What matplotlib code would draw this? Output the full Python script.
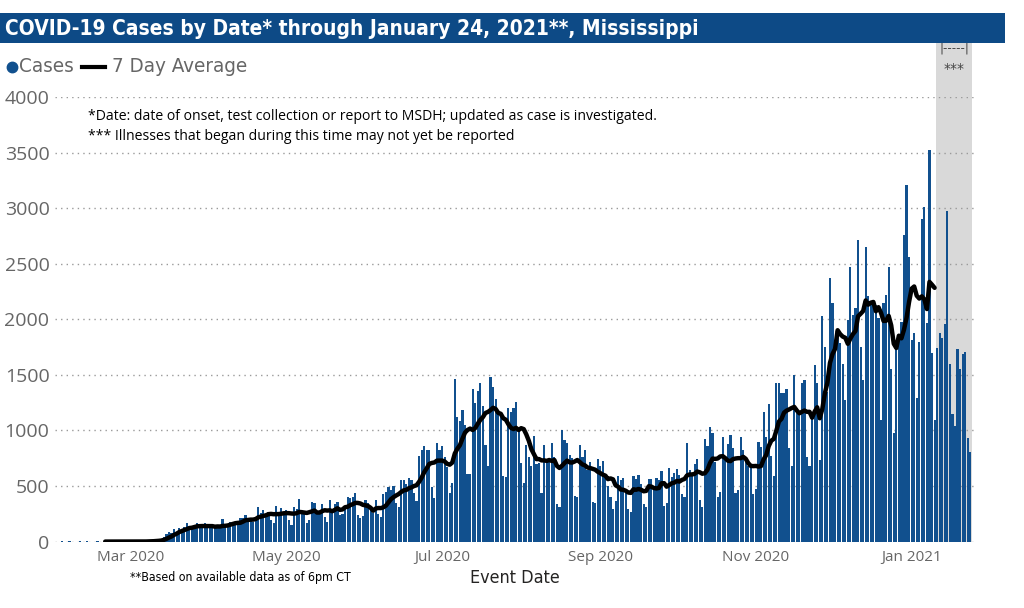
import matplotlib
matplotlib.use("Agg")
import matplotlib.pyplot as plt
import matplotlib.dates as mdates
from matplotlib import font_manager
from matplotlib.lines import Line2D
from matplotlib.patches import Rectangle
import pandas as pd

# daily cases by event date (Feb 1 2020 .. Jan 24 2021)
feb_2020 = [0, 0, 1, 0, 0, 1, 0, 0, 0, 1, 0, 0, 1, 0, 0, 0, 1, 0, 0, 1,
            0, 0, 0, 1, 0, 0, 1, 0, 0]
mar_2020 = [0, 0, 1, 0, 1, 2, 3, 5, 8, 6, 10, 15, 20, 45, 70, 90, 75, 110, 90, 120,
            110, 130, 165, 130, 130, 135, 165, 120, 135, 165, 130]
apr_2020 = [130, 130, 130, 135, 130, 200, 140, 150, 180, 180, 180, 150, 210, 210, 235,
            200, 200, 180, 190, 315, 255, 280, 240, 270, 195, 170, 320, 260, 300, 270]
may_2020 = [280, 190, 150, 310, 290, 380, 255, 255, 165, 195, 360, 345, 255, 255, 340,
            225, 175, 375, 290, 340, 355, 240, 250, 315, 405, 390, 400, 440, 235, 215, 230]
jun_2020 = [375, 345, 290, 255, 375, 245, 225, 425, 450, 495, 460, 500, 350, 315, 555,
            555, 520, 570, 550, 435, 365, 770, 820, 860, 820, 825, 495, 395, 885, 825]
jul_2020 = [860, 765, 675, 440, 525, 1460, 1125, 1085, 1180, 1050, 610, 610, 1370, 1250,
            1355, 1425, 1220, 870, 680, 1485, 1395, 1280, 1185, 1155, 590, 585, 1200,
            1170, 1205, 1260, 1020]
aug_2020 = [705, 525, 870, 765, 680, 950, 700, 710, 440, 870, 735, 735, 890, 760, 340,
            310, 1005, 910, 885, 780, 750, 410, 400, 870, 765, 825, 645, 720, 355, 350, 740]
sep_2020 = [680, 725, 585, 500, 400, 290, 365, 590, 550, 570, 435, 290, 270, 590, 560,
            600, 520, 340, 315, 565, 565, 470, 575, 550, 635, 320, 345, 665, 585, 615]
oct_2020 = [655, 595, 425, 405, 890, 645, 615, 695, 740, 375, 315, 925, 860, 1035, 980,
            720, 400, 445, 940, 735, 875, 955, 845, 440, 465, 940, 820, 750, 680, 670, 430]
nov_2020 = [475, 900, 855, 1170, 945, 1240, 770, 590, 1425, 1425, 1335, 1335, 1370, 845,
            680, 1495, 1200, 1160, 1425, 1450, 765, 680, 1125, 1585, 1430, 735, 2030,
            1755, 1350, 2370]
dec_2020 = [2145, 1755, 1910, 1785, 1600, 1275, 1990, 2475, 2035, 2105, 2715, 1755, 1450,
            2655, 2210, 2160, 2150, 2130, 2010, 1095, 2145, 2220, 2470, 1550, 975, 1740,
            1870, 1980, 2760, 3210, 2565]
jan_2021 = [1810, 1875, 1290, 1800, 2900, 3010, 1965, 3520, 1695, 1095, 1740, 1875, 1830,
            1955, 2975, 1600, 1145, 1040, 1735, 1550, 1690, 1710, 930, 805]

cases = (feb_2020 + mar_2020 + apr_2020 + may_2020 + jun_2020 + jul_2020 + aug_2020
         + sep_2020 + oct_2020 + nov_2020 + dec_2020 + jan_2021)
dates = pd.date_range("2020-02-01", periods=len(cases), freq="D")

avg_start, avg_end = "2020-02-20", "2021-01-10"
shade_start, shade_end = "2021-01-10 12:00", "2021-01-24 18:00"
yticks = list(range(0, 4001, 500))

title = "COVID-19 Cases by Date* through January 24, 2021**, Mississippi"
note_1 = "*Date: date of onset, test collection or report to MSDH; updated as case is investigated."
note_2 = "*** Illnesses that began during this time may not yet be reported"
footnote = "**Based on available data as of 6pm CT"

BAR = "#11508e"
HEAD = "#0d4a86"
GREY = "#666666"
PLAIN = ["Open Sans", "DejaVu Sans"]

# pick a narrow face if one is installed
fonts = font_manager.fontManager.ttflist
names = {f.name for f in fonts}
if "Liberation Sans Narrow" in names:
    NARROW = {"family": ["Liberation Sans Narrow", "DejaVu Sans"], "stretch": "normal"}
    scale = 1.0
elif any(f.name == "DejaVu Sans" and f.stretch == "condensed" for f in fonts):
    NARROW = {"family": ["DejaVu Sans"], "stretch": "condensed"}
    scale = 0.92
else:
    NARROW = {"family": ["DejaVu Sans"], "stretch": "normal"}
    scale = 0.82

W, H = 1024, 608


def fx(px):
    return px / W


def fy(py):
    return 1 - py / H


fig = plt.figure(figsize=(10.24, 6.08), dpi=100)
ax = fig.add_axes([fx(55), fy(541.6), fx(920), (541.6 - 97.1) / H])

s = pd.Series(cases, index=dates)
avg = s.rolling(7).mean().loc[avg_start:avg_end]

ax.bar(dates, cases, width=0.85, color=BAR, zorder=2)
ax.plot(avg.index, avg.values, color="black", lw=3.2, solid_capstyle="round", zorder=3)

# shaded "may not yet be reported" window, runs up under the header
x0 = mdates.date2num(pd.Timestamp(shade_start))
x1 = mdates.date2num(pd.Timestamp(shade_end))
ax.add_patch(Rectangle((x0, 0), x1 - x0, 4497, color="#d9d9d9", lw=0,
                       clip_on=False, zorder=0.2))
xc = (x0 + x1) / 2
ax.text(xc, 4440, "|-----|", ha="center", va="center", fontsize=8.5, color="#444444")
ax.text(xc, 4255, "***", ha="center", va="center", fontsize=10, color="#444444")

ax.set_xlim(pd.Timestamp("2020-01-31 08:00"), pd.Timestamp("2021-01-25 20:00"))
ax.set_ylim(0, 4000)
ax.set_yticks(yticks)
ax.yaxis.grid(True, linestyle=(0, (1, 3)), color="#9a9a9a", lw=1)
ax.set_axisbelow(True)
for sp in ax.spines.values():
    sp.set_visible(False)
ax.tick_params(length=0)
ax.tick_params(axis="y", labelsize=14, labelcolor=GREY, pad=4)
ax.tick_params(axis="x", labelsize=11, labelcolor=GREY, pad=6)
for lab in ax.get_yticklabels():
    lab.set_family(PLAIN)
ax.xaxis.set_major_locator(mdates.MonthLocator(bymonth=[1, 3, 5, 7, 9, 11]))
ax.xaxis.set_major_formatter(mdates.DateFormatter("%b %Y"))
for lab in ax.get_xticklabels():
    lab.set_family(PLAIN)

# header bar
fig.add_artist(Rectangle((0, fy(43)), fx(1005), 30 / H, transform=fig.transFigure,
                         color=HEAD, lw=0))
fig.text(fx(5), fy(29), title, color="white", fontsize=16.3 * scale, fontweight="bold",
         va="center", ha="left", **NARROW)

# legend row
fig.add_artist(Line2D([fx(12)], [fy(67)], marker="o", color=BAR, markersize=7.5,
                      transform=fig.transFigure))
fig.text(fx(19), fy(67), "Cases", color=GREY, fontsize=16 * scale, va="center", **NARROW)
fig.add_artist(Line2D([fx(82), fx(105)], [fy(67), fy(67)], color="black", lw=3,
                      transform=fig.transFigure))
fig.text(fx(112), fy(67), "7 Day Average", color=GREY, fontsize=16 * scale,
         va="center", **NARROW)

fig.text(fx(88), fy(116), note_1, fontsize=10.1, family=PLAIN, va="center")
fig.text(fx(88), fy(136), note_2, fontsize=10.1, family=PLAIN, va="center")
fig.text(fx(130), fy(578), footnote, fontsize=9.6 * scale, va="center", **NARROW)
fig.text(fx(515), fy(578), "Event Date", fontsize=14 * scale, color="#252423",
         va="center", ha="center", **NARROW)

fig.savefig("out.png", dpi=100)
